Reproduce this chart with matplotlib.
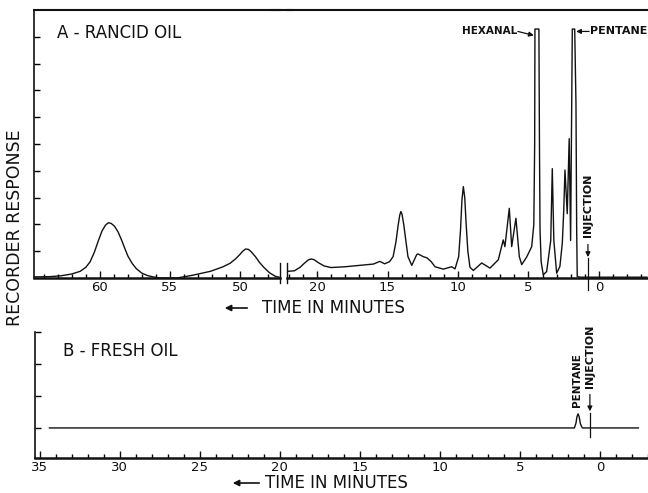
import matplotlib
matplotlib.use("Agg")
import matplotlib.pyplot as plt
from matplotlib.ticker import MultipleLocator, FixedLocator
from matplotlib.lines import Line2D

# --- data (time in minutes, recorder units) ---
# A - rancid oil, early part of the run (left of the axis break)
rancid_t_late = [64.8, 63.6, 62.8, 62.0, 61.4, 61.0, 60.7, 60.4, 60.1, 59.85, 59.6,
                 59.4, 59.2, 58.95, 58.7, 58.45, 58.2, 58.0, 57.7, 57.4, 57.0,
                 56.6, 56.1, 55.7, 54.5, 53.4, 52.1, 51.2, 50.7, 50.3, 50.0,
                 49.8, 49.6, 49.4, 49.2, 48.9, 48.6, 48.3, 47.9, 47.5, 47.15]
rancid_v_late = [0.04, 0.05, 0.08, 0.15, 0.25, 0.40, 0.60, 0.95, 1.40, 1.75, 1.97,
                 2.06, 2.04, 1.93, 1.72, 1.42, 1.08, 0.82, 0.55, 0.35, 0.18,
                 0.09, 0.03, 0.00, 0.00, 0.10, 0.25, 0.42, 0.55, 0.72, 0.88,
                 1.00, 1.08, 1.07, 0.98, 0.80, 0.58, 0.40, 0.20, 0.07, 0.02]

# A - rancid oil, 22 min down to injection (right of the break)
rancid_t = [22.05, 21.6, 21.2, 20.9, 20.6, 20.4, 20.2, 19.9, 19.5, 19.0, 18.0,
            17.2, 16.0, 15.55, 15.2, 14.85, 14.6, 14.4, 14.25, 14.13, 14.05,
            13.97, 13.85, 13.7, 13.55, 13.28, 12.93, 12.84, 12.48, 12.2, 11.9,
            11.63, 11.04, 10.45, 10.21, 9.95, 9.82, 9.72, 9.62, 9.52, 9.42,
            9.3, 9.15, 8.91, 8.32, 7.73, 7.14, 6.79, 6.67, 6.36, 6.19, 5.89,
            5.65, 5.48, 5.13, 4.77, 4.62, 4.56, 4.54, 4.26, 4.22, 4.18, 4.1,
            3.95, 3.71, 3.42, 3.31, 3.2, 3.0, 2.77, 2.6, 2.5, 2.41, 2.25, 2.11,
            2.01, 1.89, 1.72, 1.63, 1.58, 1.54, 1.3, -3.4]
rancid_v = [0.25, 0.27, 0.40, 0.55, 0.68, 0.71, 0.68, 0.57, 0.45, 0.39, 0.42,
            0.46, 0.52, 0.62, 0.53, 0.61, 0.80, 1.35, 1.95, 2.35, 2.48,
            2.38, 2.00, 1.40, 0.80, 0.47, 0.87, 0.90, 0.80, 0.75, 0.61,
            0.42, 0.33, 0.42, 0.34, 0.80, 1.80, 2.90, 3.41, 3.00, 2.00,
            1.00, 0.40, 0.28, 0.56, 0.37, 0.68, 1.42, 1.17, 2.60, 1.17, 2.23,
            0.80, 0.50, 0.78, 1.17, 2.00, 5.00, 9.29, 9.29, 5.00, 1.80, 0.60,
            0.12, 0.24, 1.40, 4.08, 1.40, 0.18, 0.43, 1.30, 2.48, 4.03, 2.40, 5.20,
            1.40, 9.29, 9.29, 6.50, 1.80, 0.05, 0.03, 0.03]

# B - fresh oil
fresh_t = [34.4, 1.6, 1.5, 1.44, 1.37, 1.3, 1.22, 1.1, -2.4]
fresh_v = [0.0, 0.0, 0.15, 0.35, 0.44, 0.35, 0.12, 0.0, 0.0]

inj_a = 0.78
inj_b = 0.63

ink = "#111111"
plt.rcParams['font.family'] = ['DejaVu Sans']

fig = plt.figure(figsize=(6.48, 4.93), dpi=100)
ax1 = fig.add_axes([0.05247, 0.43611, 0.37963, 0.54361])
ax2 = fig.add_axes([0.44290, 0.43611, 0.55710, 0.54361])
axb = fig.add_axes([0.05401, 0.07099, 0.94599, 0.25558])

ax1.plot(rancid_t_late, rancid_v_late, color=ink, lw=1.0)
ax2.plot(rancid_t, rancid_v, color=ink, lw=1.0)
axb.plot(fresh_t, fresh_v, color=ink, lw=1.0)

ax1.set_xlim(64.7, 47.14)
ax2.set_xlim(22.13, -3.48)
axb.set_xlim(35.3, -3.0)
for ax in (ax1, ax2):
    ax.set_ylim(0, 10)
axb.set_ylim(-0.94, 3.0)

ax1.xaxis.set_major_locator(FixedLocator([60, 55, 50]))
ax2.xaxis.set_major_locator(FixedLocator([20, 15, 10, 5, 0]))
axb.xaxis.set_major_locator(FixedLocator([35, 30, 25, 20, 15, 10, 5, 0]))
for ax in (ax1, ax2, axb):
    ax.xaxis.set_minor_locator(MultipleLocator(1))
    ax.tick_params(axis='x', which='major', direction='in', length=5, width=1.0,
                   labelsize=9.5, pad=2, colors=ink)
    ax.tick_params(axis='x', which='minor', direction='in', length=3, width=1.0)
    ax.spines['right'].set_visible(False)
    ax.spines['bottom'].set_linewidth(1.8)
    ax.spines['left'].set_linewidth(1.2)
    ax.spines['top'].set_linewidth(1.5)
    for s in ax.spines.values():
        s.set_color(ink)

ax1.yaxis.set_major_locator(FixedLocator(range(1, 10)))
ax1.tick_params(axis='y', direction='in', length=4, width=1.0, labelleft=False)
ax2.spines['left'].set_visible(False)
ax2.tick_params(axis='y', left=False, labelleft=False)
axb.spines['top'].set_visible(False)
axb.yaxis.set_major_locator(FixedLocator([0, 1, 2, 3]))
axb.tick_params(axis='y', direction='in', length=4, width=1.0, labelleft=False)

# axis break marks
for xb in (280, 287):
    fig.add_artist(Line2D([xb / 648, xb / 648], [1 - 283 / 493, 1 - 263 / 493],
                          color=ink, lw=1.0))
fig.add_artist(Line2D([0.42, 0.45], [1 - 10 / 493, 1 - 10 / 493], color=ink, lw=1.5))

# panel labels
ax1.text(0.0935, 0.914, "A - RANCID OIL", transform=ax1.transAxes, fontsize=12,
         color=ink, va='center', ha='left')
axb.text(0.0457, 0.848, "B - FRESH OIL", transform=axb.transAxes, fontsize=12,
         color=ink, va='center', ha='left')

# peak annotations, panel A
arr = dict(arrowstyle='-|>', lw=0.9, color=ink, mutation_scale=7, shrinkA=0, shrinkB=0)
ax2.text(5.8, 9.2, "HEXANAL", fontsize=7.5, fontweight='bold', color=ink,
         ha='right', va='center')
ax2.annotate("", xy=(4.62, 9.05), xytext=(5.75, 9.2), arrowprops=arr)
ax2.text(0.64, 9.22, "PENTANE", fontsize=8, fontweight='bold', color=ink,
         ha='left', va='center', clip_on=False)
ax2.annotate("", xy=(1.62, 9.2), xytext=(0.7, 9.2), arrowprops=arr)
ax2.text(inj_a, 2.72, "INJECTION", rotation=90, fontsize=8, fontweight='bold',
         color=ink, ha='center', va='center')
ax2.annotate("", xy=(inj_a, 0.78), xytext=(inj_a, 1.25), arrowprops=arr)
ax2.plot([inj_a, inj_a], [0.75, -0.45], color=ink, lw=0.9, clip_on=False)

# annotations, panel B
axb.text(1.44, 1.5, "PENTANE", rotation=90, fontsize=7.5, fontweight='bold',
         color=ink, ha='center', va='center')
axb.text(inj_b, 2.25, "INJECTION", rotation=90, fontsize=8, fontweight='bold',
         color=ink, ha='center', va='center', clip_on=False)
axb.annotate("", xy=(inj_b, 0.52), xytext=(inj_b, 1.05), arrowprops=arr)
axb.plot([inj_b, inj_b], [0.47, -0.28], color=ink, lw=0.9)

# x titles with left-pointing arrows
for y_px, x_arrow, x_text in ((308, (250, 222), 262), (483, (262, 230), 265)):
    yf = 1 - y_px / 493
    fig.text(x_text / 648, yf, "TIME IN MINUTES", fontsize=12, color=ink,
             ha='left', va='center')
    fig.add_artist(matplotlib.patches.FancyArrowPatch(
        (x_arrow[0] / 648, yf), (x_arrow[1] / 648, yf), transform=fig.transFigure,
        arrowstyle='-|>', mutation_scale=9, lw=1.2, color=ink))

fig.text(15 / 648, 1 - 228 / 493, "RECORDER RESPONSE", rotation=90, fontsize=12.5,
         color=ink, ha='center', va='center')

fig.savefig("out.png", dpi=100, facecolor='white')
